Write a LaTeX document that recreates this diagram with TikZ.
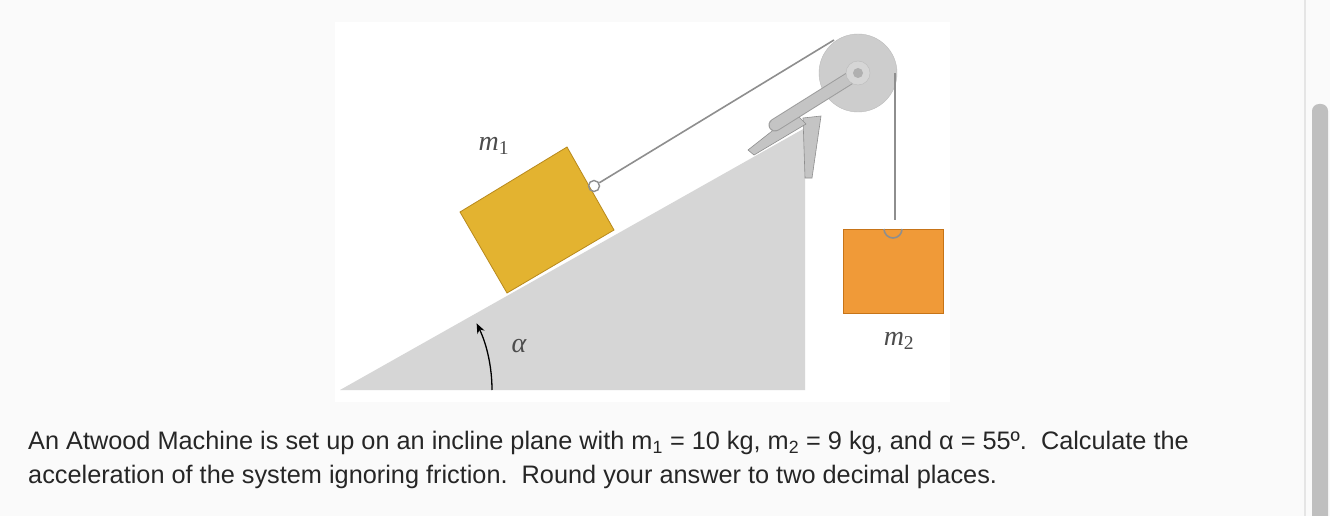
\documentclass[tikz,border=0pt]{standalone}
\usepackage{fontspec}
\setmainfont{Liberation Sans}
\newfontfamily\lab{Liberation Serif}
\usetikzlibrary{arrows.meta}
\definecolor{bg}{HTML}{FAFAFA}
\definecolor{wedgeg}{HTML}{D6D6D6}
\definecolor{partg}{HTML}{C4C4C4}
\definecolor{edgeg}{HTML}{8E8E8E}
\definecolor{yel}{HTML}{E3B330}
\definecolor{yeld}{HTML}{B8891C}
\definecolor{ora}{HTML}{F09A38}
\definecolor{orad}{HTML}{C77418}
\tikzset{rope/.style={draw=edgeg,line width=1.6pt},
 part/.style={fill=partg,draw=edgeg,line width=0.6pt},
 lbl/.style={font=\lab\itshape\fontsize{28}{30}\selectfont,text=black!70},
 para/.style={font=\fontsize{25.3}{28}\selectfont,text=black!85,anchor=west,inner sep=0}}
\begin{document}
\begin{tikzpicture}[x=1pt,y=-1pt]
\useasboundingbox (0,0) rectangle (1330,516);
\fill[bg] (0,0) rectangle (1330,516);
\fill[white] (335,22) rectangle (950,402);
\draw[black!10,line width=1.5pt] (1305,0) -- (1305,516);
\fill[black!25,rounded corners=7pt] (1312,104) rectangle (1328,530);
% wedge
\fill[wedgeg] (340,390) -- (805,390) -- (805,128) -- cycle;
% bracket pieces
\fill[part] (803,118) -- (821,116) -- (812,178) -- (805,178) -- cycle;
\fill[part] (748,150) -- (795,113) -- (806,124) -- (754,155) -- cycle;
% pulley
\coordinate (pc) at (858,73);
\fill[partg!85,draw=edgeg!60] (pc) circle (39);
\draw[line width=13pt,partg!80!black,line cap=round] (pc) -- (775,125);
\draw[line width=11pt,partg,line cap=round] (pc) -- (775,125);
\fill[partg!70,draw=edgeg!60] (pc) circle (12);
\fill[partg!90!black] (pc) circle (5);
% block m1
\fill[yel,draw=yeld,line width=0.8pt] (460,212) -- (567,147) -- (614,230) -- (507,293) -- cycle;
\node[draw=edgeg,circle,minimum size=11pt,inner sep=0,line width=1.4pt] (h1) at (594,186) {};
\coordinate (t1) at (834,40);
\draw[rope] (h1) -- (t1);
% block m2
\node[fill=ora,draw=orad,line width=0.8pt,minimum width=100pt,minimum height=84pt,inner sep=0] (m2) at (893,271) {};
\draw[edgeg,line width=1.6pt] (884,229) arc (180:0:9);
\coordinate (t2) at (895,73);
\draw[rope] (t2) -- (895,220);
% angle
\draw[-{Stealth[length=10pt,width=8pt]},black,line width=1.3pt] (492,390) arc (0:-26:152);
\node[lbl] (al) at (519,346) {α};
\node[lbl] (l1) at (494,146) {m\textsubscript{\upshape 1}};
\node[lbl] (l2) at (899,341) {m\textsubscript{\upshape 2}};
\node[para] (p1) at (28,443) {An Atwood Machine is set up on an incline plane with m\textsubscript{1} = 10 kg, m\textsubscript{2} = 9 kg, and α = 55º.\ \ Calculate the};
\node[para] (p2) at (28,477) {acceleration of the system ignoring friction.\ \ Round your answer to two decimal places.};
\end{tikzpicture}
\end{document}
